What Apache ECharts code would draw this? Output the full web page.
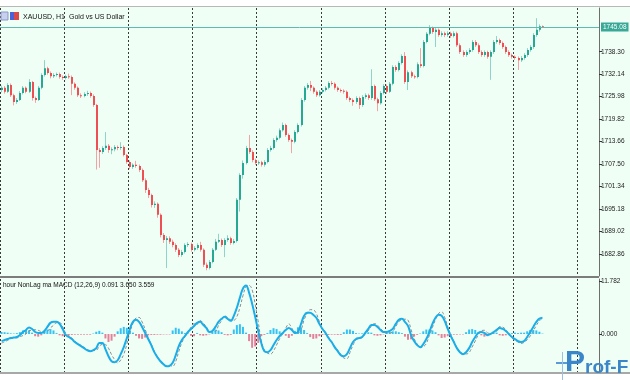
<!DOCTYPE html>
<html><head><meta charset="utf-8">
<script src="https://cdn.jsdelivr.net/npm/echarts@6/dist/echarts.min.js"></script>
<style>html,body{margin:0;padding:0;background:#fff}#c{width:630px;height:380px}</style>
</head><body><div id="c"></div>
<script>
const opens=[1727.8,1728.4,1727.3,1729.2,1726.4,1724.5,1725.1,1727.0,1728.4,1727.3,
1730.0,1725.6,1725.1,1728.4,1731.9,1733.8,1732.5,1731.6,1731.9,1732.2,
1731.4,1731.1,1731.6,1731.4,1729.5,1728.4,1726.4,1726.2,1726.7,1727.0,
1726.2,1723.7,1711.4,1710.8,1711.9,1712.5,1711.4,1711.6,1712.2,1711.9,
1712.2,1710.0,1708.1,1706.7,1707.3,1707.0,1705.9,1703.1,1700.4,1699.0,
1696.3,1696.6,1693.6,1688.1,1686.7,1687.2,1686.2,1685.3,1684.0,1682.6,
1683.4,1685.3,1685.6,1684.0,1684.5,1685.3,1684.0,1679.9,1679.0,1680.7,
1684.0,1686.2,1686.7,1685.3,1686.7,1687.2,1685.9,1686.4,1697.7,1704.5,
1707.8,1711.9,1710.8,1708.6,1707.8,1708.0,1707.3,1708.1,1711.4,1711.9,
1714.1,1714.7,1716.8,1718.2,1715.5,1714.1,1713.6,1716.3,1718.2,1725.1,
1728.4,1729.2,1728.4,1727.3,1726.4,1727.3,1727.8,1728.4,1729.7,1729.5,
1728.4,1727.8,1727.6,1727.3,1725.6,1725.1,1724.5,1725.6,1723.7,1725.9,
1726.4,1725.6,1728.9,1725.3,1724.2,1727.0,1728.9,1727.3,1729.5,1734.1,
1733.3,1735.2,1737.1,1730.0,1732.7,1731.6,1731.4,1734.9,1734.4,1741.0,
1743.2,1744.8,1743.7,1744.3,1742.9,1743.4,1742.9,1743.4,1742.6,1743.4,
1740.1,1738.2,1737.4,1738.2,1738.8,1741.0,1740.1,1738.2,1737.4,1738.2,
1736.9,1738.2,1741.0,1741.5,1740.7,1739.6,1738.2,1737.4,1736.9,1736.6,
1736.0,1736.6,1737.4,1738.8,1739.6,1742.9,1744.3,1745.3];
const closes=[1728.4,1727.3,1729.2,1726.4,1724.5,1725.1,1727.0,1728.4,1727.3,1730.0,
1725.6,1725.1,1728.4,1731.9,1733.8,1732.5,1731.6,1731.9,1732.2,1731.4,
1731.1,1731.6,1731.4,1729.5,1728.4,1726.4,1726.2,1726.7,1727.0,1726.2,
1723.7,1711.4,1710.8,1711.9,1712.5,1711.4,1711.6,1712.2,1711.9,1712.2,
1710.0,1708.1,1706.7,1707.3,1707.0,1705.9,1703.1,1700.4,1699.0,1696.3,
1696.6,1693.6,1688.1,1686.7,1687.2,1686.2,1685.3,1684.0,1682.6,1683.4,
1685.3,1685.6,1684.0,1684.5,1685.3,1684.0,1679.9,1679.0,1680.7,1684.0,
1686.2,1686.7,1685.3,1686.7,1687.2,1685.9,1686.4,1697.7,1704.5,1707.8,
1711.9,1710.8,1708.6,1707.8,1708.0,1707.3,1708.1,1711.4,1711.9,1714.1,
1714.7,1716.8,1718.2,1715.5,1714.1,1713.6,1716.3,1718.2,1725.1,1728.4,
1729.2,1728.4,1727.3,1726.4,1727.3,1727.8,1728.4,1729.7,1729.5,1728.4,
1727.8,1727.6,1727.3,1725.6,1725.1,1724.5,1725.6,1723.7,1725.9,1726.4,
1725.6,1728.9,1725.3,1724.2,1727.0,1728.9,1727.3,1729.5,1734.1,1733.3,
1735.2,1737.1,1730.0,1732.7,1731.6,1731.4,1734.9,1734.4,1741.0,1743.2,
1744.8,1743.7,1744.3,1742.9,1743.4,1742.9,1743.4,1742.6,1743.4,1740.1,
1738.2,1737.4,1738.2,1738.8,1741.0,1740.1,1738.2,1737.4,1738.2,1736.9,
1738.2,1741.0,1741.5,1740.7,1739.6,1738.2,1737.4,1736.9,1736.6,1736.0,
1736.6,1737.4,1738.8,1739.6,1742.9,1744.3,1745.3,1745.08];
const lows=[1727.2,1726.8,1727.0,1725.9,1723.6,1724.0,1724.8,1726.6,1726.9,1727.0,
1724.9,1724.3,1724.8,1728.0,1731.5,1732.0,1731.0,1731.1,1731.5,1730.9,
1730.6,1730.7,1730.9,1726.4,1727.9,1725.9,1725.6,1725.8,1726.2,1725.7,
1723.2,1706.0,1706.5,1710.3,1711.4,1710.6,1710.2,1711.0,1711.3,1711.4,
1709.6,1707.6,1706.1,1706.2,1706.5,1705.3,1702.6,1699.6,1698.2,1695.6,
1695.5,1692.8,1687.4,1685.9,1679.0,1685.6,1684.7,1683.4,1682.0,1682.1,
1683.0,1684.8,1683.5,1683.6,1684.0,1683.5,1679.3,1678.4,1678.6,1680.3,
1683.7,1685.9,1684.8,1682.0,1686.2,1685.4,1685.5,1686.0,1694.5,1703.5,
1707.4,1710.3,1708.0,1707.3,1707.3,1706.8,1706.8,1707.7,1710.9,1711.5,
1713.6,1714.3,1716.4,1715.0,1713.6,1710.5,1713.2,1715.9,1717.8,1724.6,
1727.9,1727.5,1726.8,1725.9,1726.0,1726.9,1727.4,1728.0,1729.0,1727.9,
1727.3,1727.1,1726.8,1725.1,1724.5,1723.5,1724.0,1722.6,1723.2,1725.4,
1725.1,1725.1,1724.8,1722.0,1723.8,1726.6,1726.8,1727.0,1729.1,1732.8,
1732.9,1734.8,1729.5,1727.8,1731.1,1730.9,1731.0,1733.9,1734.0,1740.6,
1742.8,1743.2,1739.6,1742.4,1742.4,1742.3,1742.4,1742.1,1742.2,1739.6,
1737.7,1736.9,1736.9,1737.7,1738.3,1739.6,1737.7,1736.9,1736.9,1736.4,
1730.6,1737.7,1740.5,1740.2,1739.1,1737.7,1736.9,1736.4,1736.1,1733.3,
1735.5,1736.1,1736.9,1738.3,1739.1,1742.4,1743.8,1744.9];
const highs=[1729.0,1728.9,1729.7,1729.6,1726.8,1725.6,1727.5,1728.9,1728.8,1730.8,
1730.3,1726.0,1728.9,1732.4,1736.0,1734.2,1732.9,1732.4,1732.6,1732.6,
1731.8,1732.0,1732.3,1731.8,1729.9,1728.8,1726.9,1727.2,1727.6,1727.4,
1726.6,1724.0,1711.9,1712.4,1716.3,1713.0,1712.1,1712.7,1712.6,1713.5,
1712.6,1710.3,1708.5,1707.7,1708.4,1707.4,1706.3,1703.6,1701.0,1699.4,
1697.3,1697.0,1694.0,1688.6,1687.8,1687.7,1686.8,1685.8,1684.5,1684.0,
1685.8,1686.1,1686.0,1685.0,1685.8,1686.2,1684.4,1680.5,1681.2,1684.5,
1687.0,1688.4,1687.1,1687.2,1688.0,1687.6,1687.0,1698.2,1705.0,1708.5,
1712.5,1715.5,1711.3,1709.0,1708.5,1708.4,1708.6,1711.9,1712.5,1714.6,
1715.3,1717.3,1718.9,1718.6,1715.9,1714.5,1716.8,1718.7,1725.6,1728.9,
1729.7,1730.3,1728.8,1727.7,1727.8,1728.3,1728.9,1730.2,1730.3,1729.9,
1728.8,1728.2,1728.0,1727.7,1726.0,1725.5,1726.1,1726.0,1726.4,1726.9,
1726.8,1733.5,1729.3,1725.7,1727.5,1729.4,1729.3,1730.0,1734.6,1734.6,
1735.7,1737.6,1738.2,1733.2,1733.1,1732.0,1735.4,1739.3,1741.5,1743.7,
1745.6,1745.2,1744.8,1744.7,1743.9,1743.8,1743.9,1743.8,1743.9,1743.8,
1740.6,1738.7,1738.7,1739.3,1741.5,1741.5,1740.6,1738.7,1738.7,1738.6,
1738.7,1741.5,1742.6,1741.9,1741.1,1740.0,1738.7,1737.8,1737.3,1737.0,
1737.1,1737.9,1739.3,1740.1,1743.4,1747.5,1745.8,1745.5];
const macdMain=[-1.59,-1.36,-1.13,-0.91,-0.79,-0.68,-0.23,0.45,0.91,1.47,
1.13,0.45,0.23,0.23,0.68,1.59,2.49,2.72,2.72,2.27,
1.13,-0.23,-0.68,-1.13,-1.81,-2.27,-2.72,-3.17,-3.63,-3.85,
-3.63,-3.17,-2.04,-2.04,-3.40,-4.99,-6.12,-6.34,-5.89,-4.53,
-2.95,-0.91,1.13,2.72,3.17,2.72,1.59,0.23,-1.13,-2.49,
-4.08,-5.21,-6.12,-6.80,-7.25,-7.14,-6.46,-4.76,-2.72,-1.36,
-0.45,0.45,1.13,1.81,2.49,2.72,2.04,1.36,0.45,0.68,
1.59,2.72,3.40,3.85,3.40,2.95,4.08,5.89,8.16,10.20,
10.88,9.29,6.80,3.85,0.68,-2.04,-3.85,-4.08,-3.63,-2.49,
-1.36,-0.45,0.23,0.91,1.36,0.91,0.23,0.45,2.27,4.08,
4.76,4.76,4.31,3.63,2.27,1.13,0.23,-0.91,-1.81,-2.95,
-3.85,-4.76,-4.99,-4.53,-3.17,-1.81,-1.13,-0.91,-0.68,0.23,
1.13,2.04,2.04,1.59,0.91,0.45,0.45,0.68,1.13,2.27,
3.17,3.40,2.72,1.81,-0.23,-1.59,-2.49,-2.95,-2.27,-1.13,
0.45,2.27,3.63,4.31,4.08,2.95,1.13,-0.45,-1.81,-3.17,
-4.08,-4.53,-4.08,-3.17,-1.81,-0.68,0.23,0.45,0.23,-0.23,
0,0.45,0.91,1.36,1.13,0.68,0,-0.68,-1.13,-1.59,
-1.81,-1.59,-0.68,0.45,1.59,2.72,3.45,3.65];
const macdSignal=[-2.04,-1.76,-1.43,-1.06,-0.89,-0.88,-0.63,-0.35,0.01,0.77,
0.83,0.95,0.83,0.53,0.45,0.59,1.39,1.92,2.52,2.57,
1.63,0.17,-0.38,-0.93,-1.66,-2.12,-2.57,-3.02,-3.48,-3.70,
-3.73,-3.67,-2.74,-2.34,-2.40,-3.19,-4.62,-5.74,-6.49,-5.83,
-4.55,-2.31,0.33,2.42,3.57,3.72,2.69,1.03,-0.83,-2.29,
-3.88,-5.06,-5.97,-6.70,-7.15,-7.04,-7.26,-6.16,-3.92,-1.96,
-0.65,0.35,1.53,2.31,2.20,3.02,2.44,1.66,0.55,0.50,
0.55,1.92,3.00,4.05,3.70,3.15,3.08,3.89,5.96,8.60,
10.58,10.89,9.90,6.65,2.68,-1.54,-3.65,-4.28,-4.53,-3.79,
-2.46,-1.05,0.03,1.31,2.26,1.31,0.30,0.20,0.90,3.18,
4.56,5.46,5.41,4.63,2.77,1.33,0.43,-0.71,-1.66,-2.80,
-3.65,-4.56,-5.39,-5.53,-4.17,-2.51,-1.33,-1.01,-0.83,0.03,
0.73,1.74,2.34,1.99,1.21,0.55,0.15,0.18,0.53,1.67,
2.77,3.20,3.32,3.11,0.97,-0.99,-2.29,-3.05,-2.87,-2.13,
-0.30,1.47,3.23,4.61,4.98,3.75,1.63,-0.25,-1.66,-3.02,
-3.98,-4.43,-4.48,-4.17,-2.91,-1.58,-0.17,0.75,0.83,0.27,
0.10,0.20,0.61,1.66,1.53,0.98,-0.10,-0.88,-1.43,-1.79,
-2.11,-1.89,-1.28,-0.45,0.69,1.92,2.95,3.559];
const macdHist=[0.45,0.4,0.3,0.15,0.1,0.2,0.4,0.8,0.9,0.7,
0.3,-0.5,-0.6,-0.3,0.5,1.0,1.1,0.8,0.2,-0.3,
-0.5,-0.4,-0.3,-0.2,-0.15,-0.15,-0.15,-0.15,-0.15,-0.15,
0.1,0.5,0.7,0.3,-1.0,-1.8,-1.5,-0.6,0.6,1.3,
1.6,1.4,0.8,0.3,-0.4,-1.0,-1.1,-0.8,-0.3,-0.2,
-0.2,-0.15,-0.15,-0.1,-0.1,-0.1,0.8,1.4,1.2,0.6,
0.2,0.1,-0.4,-0.5,0.2,-0.3,-0.4,-0.3,-0.1,0.5,
1.0,0.8,0.4,-0.2,-0.3,-0.2,1.0,2.0,2.2,1.6,
0.3,-1.6,-3.1,-2.8,-2.0,-0.5,-0.2,0.2,0.9,1.3,
1.1,0.6,0.2,-0.4,-0.9,-0.4,0.7,1.5,1.4,0.9,
0.2,-0.7,-1.1,-1.0,-0.5,-0.2,-0.2,-0.2,-0.15,-0.15,
-0.2,-0.2,0.4,1.0,1.0,0.7,0.2,0.1,0.15,0.2,
0.4,0.3,-0.3,-0.4,-0.3,-0.1,0.3,0.5,0.6,0.6,
0.4,0.2,-0.6,-1.3,-1.2,-0.6,-0.2,0.1,0.6,1.0,
1.0,0.8,0.4,-0.3,-0.9,-0.8,-0.5,-0.2,-0.15,-0.15,
-0.1,-0.1,0.4,1.0,1.1,0.9,0.4,-0.3,-0.6,-0.5,
0.2,0.4,0.3,-0.3,-0.4,-0.3,0.1,0.2,0.3,0.2,
0.3,0.3,0.6,0.9,0.9,0.8,0.5,0.091];
const priceTicks=[1738.30,1732.14,1725.98,1719.82,1713.66,1707.50,1701.34,1695.18,1689.02,1682.86];
const macdTicks=[11.782,0];
const lastPrice=1745.08;
const slotCount=196;
const categories=[];
for(let i=0;i<slotCount;i++) categories.push('b'+i);

const candleData=opens.map((o,i)=>[i,o,closes[i],lows[i],highs[i]]);

const BULL='#26a892', BEAR='#ef4f52', BULLW='#8fd4c8', BEARW='#f3a3a3';
const FONT='Liberation Sans';

function renderCandle(params, api){
  const i=api.value(0), o=api.value(1), c=api.value(2), l=api.value(3), h=api.value(4);
  const pO=api.coord([i,o]), pC=api.coord([i,c]), pL=api.coord([i,l]), pH=api.coord([i,h]);
  const x=Math.floor(pO[0]);
  const up=c>=o;
  const top=Math.min(pO[1],pC[1]), bot=Math.max(pO[1],pC[1]);
  return {type:'group',children:[
    {type:'line',shape:{x1:x+0.5,y1:pH[1],x2:x+0.5,y2:pL[1]},style:{stroke:up?BULLW:BEARW,lineWidth:1}},
    {type:'rect',shape:{x:x,y:top,width:2,height:Math.max(1,bot-top)},style:{fill:up?BULL:BEAR}}
  ]};
}

const gridLine={show:true,interval:20,lineStyle:{color:'#3a3a3a',type:[2,2],width:1}};
const chart=echarts.init(document.getElementById('c'),null,{renderer:'canvas',width:630,height:380});
chart.setOption({
  animation:false,
  backgroundColor:'#f0fff6',
  grid:[{left:0,top:8,width:599,height:268},{left:0,top:279,width:599,height:93}],
  xAxis:[
    {type:'category',gridIndex:0,data:categories,boundaryGap:true,axisLine:{show:false},axisTick:{show:false},axisLabel:{show:false},splitLine:gridLine},
    {type:'category',gridIndex:1,data:categories,boundaryGap:true,axisLine:{show:false},axisTick:{show:false},axisLabel:{show:false},splitLine:gridLine}
  ],
  yAxis:[
    {type:'value',gridIndex:0,position:'right',min:1676.83,max:1750.29,
     axisLine:{show:true,lineStyle:{color:'#6e6e6e',width:1}},
     axisTick:{show:true,length:3,customValues:priceTicks,lineStyle:{color:'#333'}},
     axisLabel:{customValues:priceTicks,formatter:v=>v.toFixed(2),fontSize:6.5,color:'#222',margin:2,fontFamily:FONT},
     splitLine:{show:false}},
    {type:'value',gridIndex:1,position:'right',min:-8.53,max:12.34,
     axisLine:{show:true,lineStyle:{color:'#6e6e6e',width:1}},
     axisTick:{show:true,length:3,customValues:macdTicks,lineStyle:{color:'#333'}},
     axisLabel:{customValues:macdTicks,formatter:v=>v.toFixed(3),fontSize:6.5,color:'#222',margin:2,fontFamily:FONT},
     splitLine:{show:false}}
  ],
  series:[
    {type:'custom',name:'XAUUSD',xAxisIndex:0,yAxisIndex:0,data:candleData,renderItem:renderCandle,
     encode:{x:0,y:[1,2,3,4]},clip:true,z:3,
     markLine:{silent:true,symbol:'none',animation:false,
       lineStyle:{color:'#5cbcae',width:1,type:'solid'},
       label:{show:true,position:'end',formatter:()=>lastPrice.toFixed(2),color:'#fff',backgroundColor:'#38a897',
              padding:[1,2,1,2],fontSize:6.5,fontFamily:FONT,distance:2},
       data:[{yAxis:lastPrice}]}},
    {type:'bar',name:'hist',xAxisIndex:1,yAxisIndex:1,data:macdHist,barWidth:2,z:2,
     itemStyle:{color:p=>p.value>=0?'#34c2f4':'#e3819b'}},
    {type:'line',name:'signal',xAxisIndex:1,yAxisIndex:1,data:macdSignal,smooth:0.4,symbol:'none',z:3,
     lineStyle:{color:'#8c8c8c',width:1,type:[3,2]}},
    {type:'line',name:'macd',xAxisIndex:1,yAxisIndex:1,data:macdMain,smooth:0.4,symbol:'none',z:4,
     lineStyle:{color:'#19ade9',width:2}}
  ],
  graphic:[
    {type:'rect',shape:{x:0,y:0,width:630,height:7},style:{fill:'#ffffff'},z:10},
    {type:'rect',shape:{x:0,y:6,width:630,height:1},style:{fill:'#b8b8b8'},z:10},
    {type:'rect',shape:{x:0,y:276,width:599,height:2},style:{fill:'#7c7c7c'},z:10},
    {type:'rect',shape:{x:0,y:373,width:630,height:7},style:{fill:'#ffffff'},z:10},
    {type:'rect',shape:{x:0,y:372,width:630,height:2},style:{fill:'#a8a8a8'},z:10},
    {type:'rect',shape:{x:1,y:12,width:7,height:8},style:{fill:'#c7d0ee',stroke:'#8a98c8',lineWidth:1},z:10},
    {type:'rect',shape:{x:10,y:12,width:4,height:8},style:{fill:'#4a62d8'},z:10},
    {type:'rect',shape:{x:14,y:12,width:5,height:8},style:{fill:'#d84a4a'},z:10},
    {type:'text',x:23,y:17,style:{text:'XAUUSD, H1',fontSize:7,fontFamily:FONT,fill:'#111',verticalAlign:'middle'},z:10},
    {type:'text',x:69,y:17,style:{text:'Gold vs US Dollar',fontSize:7,fontFamily:FONT,fill:'#111',verticalAlign:'middle'},z:10},
    {type:'text',x:3,y:285,style:{text:'hour NonLag ma MACD (12,26,9) 0.091 3.650 3.559',fontSize:6.5,fontFamily:FONT,fill:'#111',verticalAlign:'middle'},z:10},
    {type:'rect',shape:{x:556,y:362,width:22,height:2},style:{fill:'#5a9ad6'},z:11},
    {type:'rect',shape:{x:562,y:352,width:1,height:28},style:{fill:'#9cc0e4'},z:11},
    {type:'text',x:565,y:378,style:{text:'P',fontSize:30,fontWeight:'bold',fontFamily:FONT,fill:'#3a86c8',verticalAlign:'bottom'},z:11},
    {type:'text',x:585,y:377,style:{text:'rof-F',fontSize:19,fontWeight:'bold',fontFamily:FONT,fill:'#3a86c8',verticalAlign:'bottom'},z:11}
  ]
});
</script></body></html>
